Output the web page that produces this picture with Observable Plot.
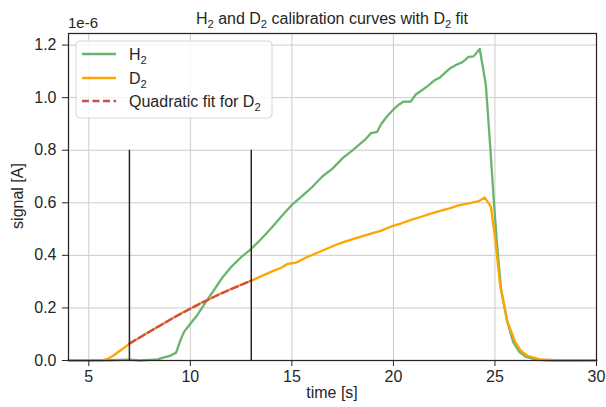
<!DOCTYPE html>
<html>
<head>
<meta charset="utf-8">
<script src="https://cdn.jsdelivr.net/npm/d3@7"></script>
<script src="https://cdn.jsdelivr.net/npm/@observablehq/plot@0.6"></script>
<style>
  html, body { margin: 0; padding: 0; background: #fff; }
  #chart { width: 606px; height: 407px; }
</style>
</head>
<body>
<div id="chart"></div>
<script>
// ---- data (signal in units of 1e-6 A) ----
const h2Time = [4, 5, 6, 7, 7.5, 8, 8.4, 8.7, 9.0, 9.3, 9.5, 9.7, 10.0, 10.3, 10.7, 11.2, 11.6, 12.0, 12.5, 13.0, 13.5, 14.0, 14.5, 15.0, 15.5, 16.0, 16.5, 17.0, 17.5, 18.0, 18.3, 18.6, 18.9, 19.2, 19.4, 19.7, 20.0, 20.3, 20.5, 20.85, 21.1, 21.4, 21.7, 22.0, 22.3, 22.55, 22.8, 23.1, 23.4, 23.7, 23.95, 24.25, 24.55, 24.77, 24.95, 25.1, 25.3, 25.6, 25.9, 26.2, 26.5, 27.0, 27.5, 28, 29, 30];
const h2Signal = [0.0, 0.0, 0.001, 0.003, 0.0, 0.002, 0.004, 0.012, 0.018, 0.03, 0.075, 0.11, 0.14, 0.168, 0.215, 0.272, 0.318, 0.355, 0.393, 0.425, 0.463, 0.505, 0.55, 0.592, 0.625, 0.66, 0.70, 0.73, 0.77, 0.80, 0.82, 0.84, 0.865, 0.87, 0.90, 0.93, 0.955, 0.975, 0.985, 0.985, 1.012, 1.028, 1.045, 1.065, 1.077, 1.095, 1.112, 1.125, 1.135, 1.155, 1.157, 1.185, 1.05, 0.81, 0.60, 0.445, 0.27, 0.15, 0.07, 0.033, 0.015, 0.004, 0.001, 0.0, 0.0, 0.001];

const d2Time = [4, 5, 5.6, 5.9, 6.2, 6.5, 7.0, 7.5, 8.0, 8.5, 9.0, 9.5, 10.0, 10.5, 11.0, 11.5, 12.0, 12.5, 13.0, 13.5, 14.0, 14.5, 14.8, 15.2, 15.7, 16.2, 16.8, 17.3, 17.8, 18.4, 18.9, 19.4, 19.9, 20.4, 20.9, 21.3, 21.8, 22.3, 22.8, 23.2, 23.7, 24.2, 24.5, 24.8, 25.0, 25.25, 25.6, 26.0, 26.3, 26.6, 27.2, 28, 29, 30];
const d2Signal = [0.001, 0.001, 0.0, 0.005, 0.018, 0.035, 0.063, 0.087, 0.11, 0.132, 0.155, 0.178, 0.197, 0.219, 0.236, 0.255, 0.272, 0.288, 0.304, 0.321, 0.338, 0.354, 0.368, 0.372, 0.392, 0.408, 0.428, 0.444, 0.457, 0.471, 0.483, 0.494, 0.51, 0.522, 0.536, 0.545, 0.558, 0.569, 0.58, 0.59, 0.598, 0.606, 0.62, 0.585, 0.47, 0.29, 0.152, 0.07, 0.035, 0.018, 0.004, 0.001, 0.001, 0.001];

const fitTime = [7, 8, 9, 10, 11, 12, 13];
const fitSignal = [0.065, 0.110, 0.155, 0.197, 0.236, 0.271, 0.304];

const windowEdges = [7, 13];
const windowTop = 0.8;

const xTicks = [5, 10, 15, 20, 25, 30];
const yTicks = [0.0, 0.2, 0.4, 0.6, 0.8, 1.0, 1.2];

const seriesNames = ["H₂", "D₂", "Quadratic fit for D₂"];
const seriesColors = ["#6ab46e", "#ffa500", "#cc4c4f"];

const titleText = "H₂ and D₂ calibration curves with D₂ fit";
const xLabel = "time [s]";
const yLabel = "signal [A]";
const yExponent = "1e-6";

// ---- build tables ----
const h2 = h2Time.map((t, i) => ({t, v: h2Signal[i]}));
const d2 = d2Time.map((t, i) => ({t, v: d2Signal[i]}));
const fit = fitTime.map((t, i) => ({t, v: fitSignal[i]}));

const FONT = "'Liberation Sans', Arial, sans-serif";
const INK = "#262626";
const FS = 16;

const plot = Plot.plot({
  width: 606,
  height: 407,
  marginLeft: 68,
  marginRight: 10,
  marginTop: 33,
  marginBottom: 47,
  style: {fontFamily: FONT, fontSize: FS + "px", color: INK, background: "#fff"},
  x: {domain: [4, 30]},
  y: {domain: [0, 1.244]},
  marks: [
    Plot.gridX(xTicks, {stroke: "#cccccc", strokeOpacity: 1, strokeWidth: 1}),
    Plot.gridY(yTicks, {stroke: "#cccccc", strokeOpacity: 1, strokeWidth: 1}),
    Plot.line(h2, {x: "t", y: "v", stroke: seriesColors[0], strokeWidth: 2.3}),
    Plot.line(d2, {x: "t", y: "v", stroke: seriesColors[1], strokeWidth: 2.3}),
    Plot.line(fit, {x: "t", y: "v", stroke: seriesColors[2], strokeWidth: 2.3, strokeDasharray: "7,3.5", curve: "catmull-rom"}),
    Plot.ruleX(windowEdges, {y1: 0, y2: windowTop, stroke: INK, strokeWidth: 1.5}),
    Plot.frame({stroke: INK, strokeWidth: 1.25}),
    Plot.axisX(xTicks, {tickSize: 6, tickPadding: 4, label: null, fontSize: FS, stroke: INK, fill: INK}),
    Plot.axisY(yTicks, {tickSize: 6, tickPadding: 6, tickFormat: d3.format(".1f"), label: null, fontSize: FS, stroke: INK, fill: INK})
  ]
});

document.getElementById("chart").appendChild(plot);

// ---- decorations: title, labels, exponent, legend ----
const svg = d3.select(plot);

function richText(sel, str, fontSize) {
  const parts = str.split("₂");
  parts.forEach((p, i) => {
    if (p) sel.append("tspan").attr("dy", i > 0 ? -fontSize * 0.22 : null).text(p);
    if (i < parts.length - 1) {
      sel.append("tspan").attr("dy", fontSize * 0.22).attr("font-size", fontSize * 0.7).text("2");
    }
  });
  // fix: first chunk has dy null; chunks after a subscript shift back up
}

const deco = svg.append("g").attr("font-family", FONT).attr("fill", INK).attr("text-anchor", "start");

const title = deco.append("text").attr("x", 332).attr("y", 24).attr("text-anchor", "middle").attr("font-size", FS);
richText(title, titleText, FS);

deco.append("text").attr("x", 332).attr("y", 398).attr("text-anchor", "middle").attr("font-size", FS).text(xLabel);
deco.append("text").attr("transform", "translate(23,196) rotate(-90)").attr("text-anchor", "middle").attr("font-size", FS).text(yLabel);
deco.append("text").attr("x", 68).attr("y", 28).attr("text-anchor", "start").attr("font-size", FS - 1).text(yExponent);

// legend
const lg = svg.append("g").attr("font-family", FONT).attr("text-anchor", "start");
lg.append("rect").attr("x", 76).attr("y", 41).attr("width", 196).attr("height", 77).attr("rx", 4)
  .attr("fill", "#ffffff").attr("fill-opacity", 0.8).attr("stroke", "#d6d6d6").attr("stroke-width", 1);
const rowY = [54, 78, 101];
seriesNames.forEach((name, i) => {
  const line = lg.append("line").attr("x1", 82).attr("x2", 116).attr("y1", rowY[i]).attr("y2", rowY[i])
    .attr("stroke", seriesColors[i]).attr("stroke-width", 2.3);
  if (i === 2) line.attr("stroke-dasharray", "7,3.5");
  const t = lg.append("text").attr("x", 129).attr("y", rowY[i] + 6).attr("text-anchor", "start").attr("font-size", FS).attr("fill", INK);
  richText(t, name, FS);
});
</script>
</body>
</html>
